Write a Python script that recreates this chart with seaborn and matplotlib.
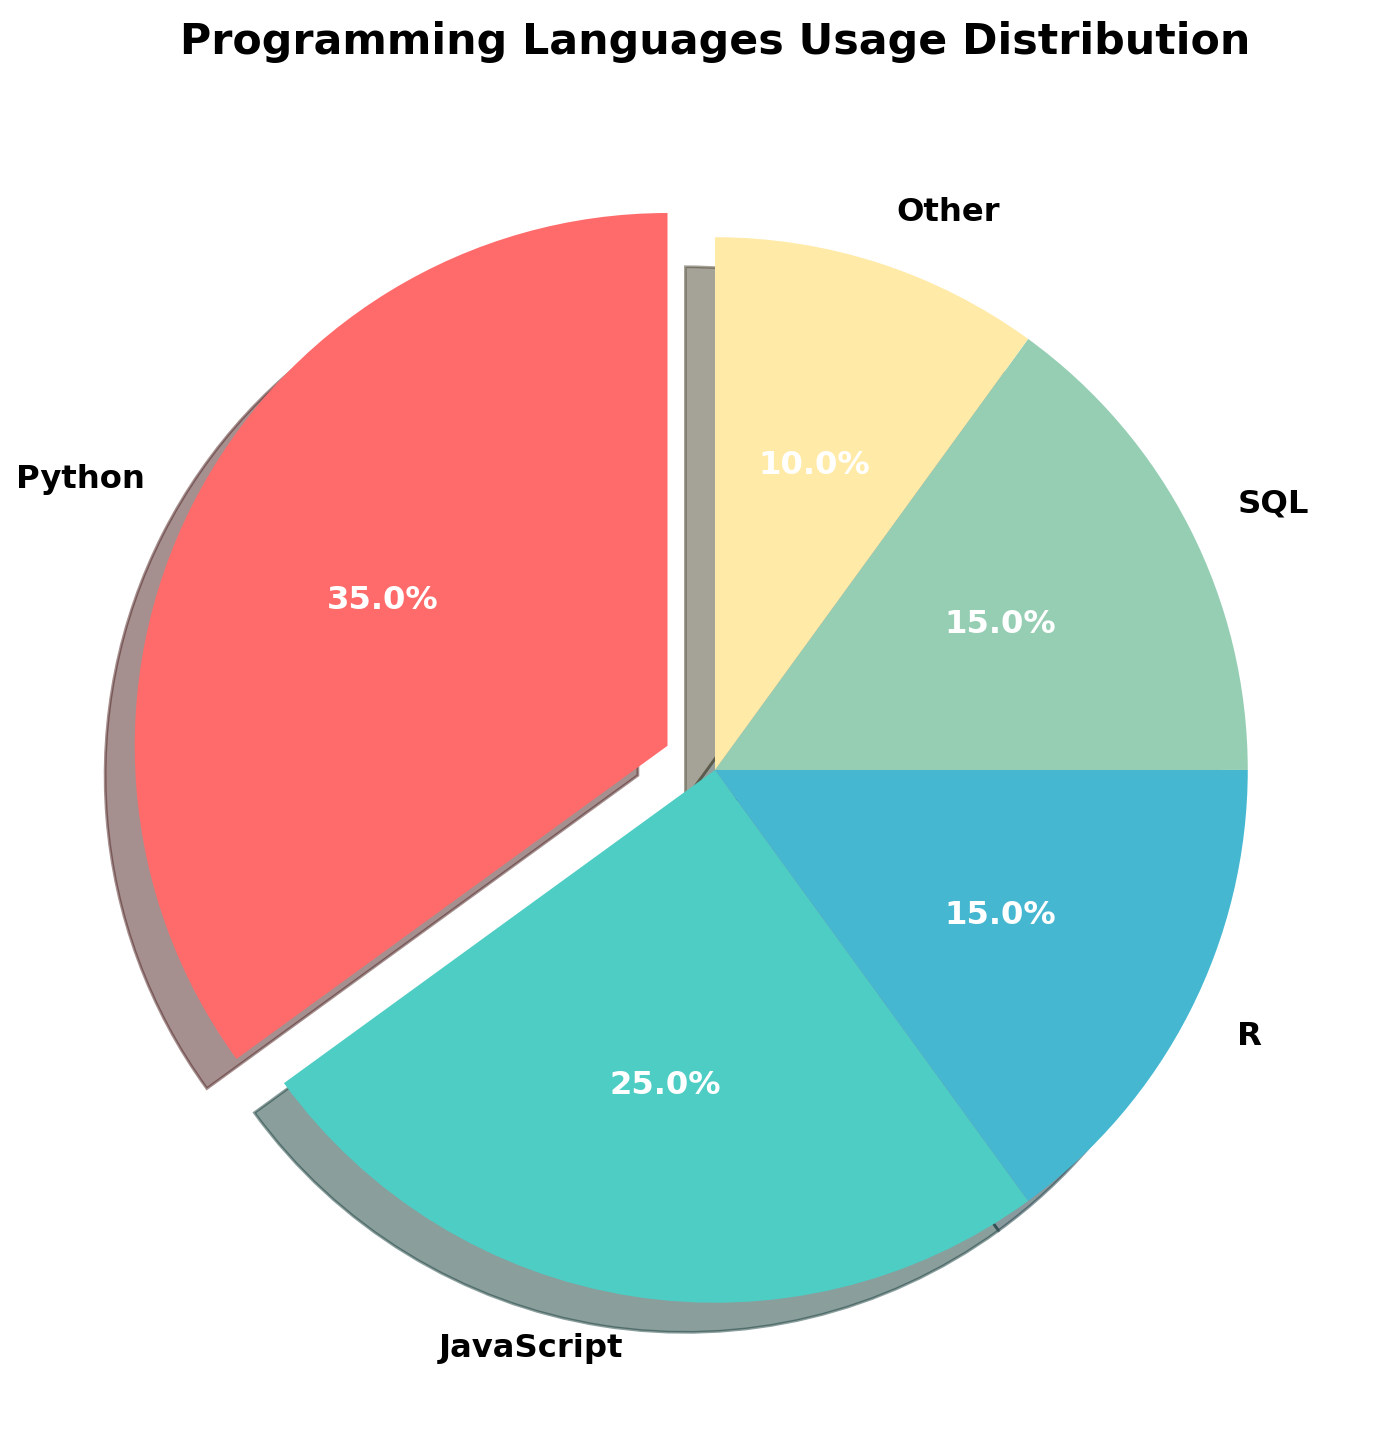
import matplotlib
matplotlib.use('Agg')
import matplotlib.pyplot as plt
import seaborn as sns

languages = ['Python', 'JavaScript', 'R', 'SQL', 'Other']
usage = [35, 25, 15, 15, 10]
colors = ['#FF6B6B', '#4ECDC4', '#45B7D1', '#96CEB4', '#FFEAA7']
explode = [0.1, 0, 0, 0, 0]

palette = sns.color_palette(colors)

fig = plt.figure(figsize=(7, 7.275), dpi=200)
ax = fig.add_axes([0.035, 0.01306, 0.9514, 0.9155])

wedges, texts, autotexts = ax.pie(
    usage,
    labels=languages,
    colors=palette,
    explode=explode,
    autopct='%1.1f%%',
    startangle=90,
    shadow=True,
)

for t in texts:
    t.set_fontsize(11.6)
    t.set_fontweight('bold')
for t in autotexts:
    t.set_fontsize(11.6)
    t.set_fontweight('bold')
    t.set_color('white')

ax.set_title('Programming Languages Usage Distribution',
             fontsize=15.4, fontweight='bold', pad=18)

fig.savefig('out.png', dpi=200)
plt.close(fig)
